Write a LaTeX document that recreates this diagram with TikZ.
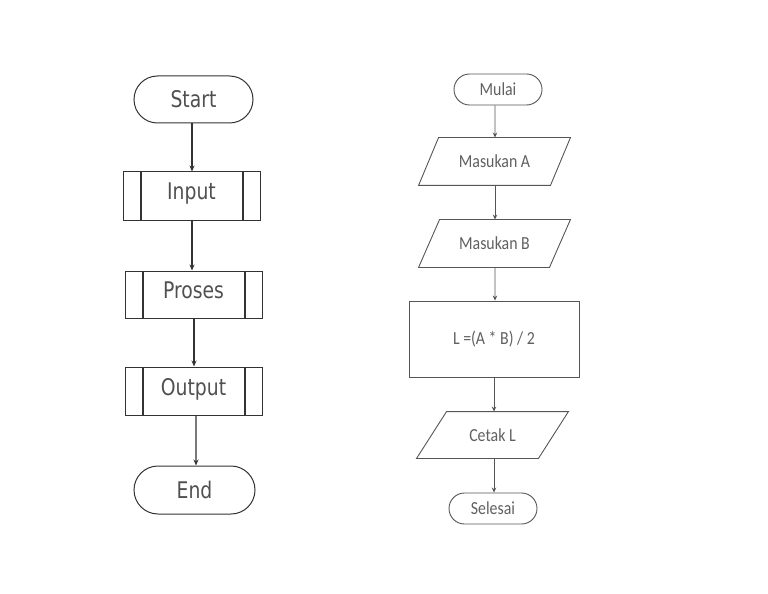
\documentclass[tikz,border=0pt]{standalone}
\usepackage{fontspec}
\usetikzlibrary{arrows.meta,shapes.misc}
\newfontfamily\leftfont[FakeStretch=0.82]{DejaVu Sans}
\newfontfamily\rightfont[FakeStretch=0.86]{Carlito}
\definecolor{ltext}{HTML}{505050}
\definecolor{lline}{HTML}{333333}
\definecolor{rtext}{HTML}{606060}
\definecolor{rline}{HTML}{555555}
\begin{document}
\begin{tikzpicture}[x=1bp,y=-1bp,
  lbase/.style={draw=lline,line width=1bp,text=ltext,inner sep=0pt,
    font=\leftfont\fontsize{23}{23}\selectfont},
  lterm/.style={lbase,rounded rectangle},
  predef/.style={lbase,rectangle,
    path picture={\draw[lline,line width=1.5bp]
      ([xshift=18bp]path picture bounding box.north west) -- ([xshift=18bp]path picture bounding box.south west)
      ([xshift=-17bp]path picture bounding box.north east) -- ([xshift=-17bp]path picture bounding box.south east);}},
  rbase/.style={draw=rline,line width=0.9bp,text=rtext,inner sep=0pt,
    font=\rightfont\fontsize{18.5}{18.5}\selectfont},
  rterm/.style={rbase,rounded rectangle},
  rbox/.style={rbase,rectangle},
  ptext/.style={rbase,draw=none,rectangle},
  parl/.style={draw=rline,line width=0.9bp,line join=miter},
  larr/.style={draw=lline,line width=1.1bp,-{Stealth[length=6bp,width=5bp]}},
  rarr/.style={draw=rline,line width=0.9bp,-{Stealth[length=5bp,width=4.5bp]}}]
\useasboundingbox (0,0) rectangle (768,594);
% left flowchart
\node[lterm,minimum width=119bp,minimum height=47bp] (start) at (193.5,99.5) {Start};
\node[predef,minimum width=137bp,minimum height=48bp] (input) at (191.5,196) {\raisebox{10bp}{Input}};
\node[predef,minimum width=137bp,minimum height=47bp] (proses) at (193.5,294.5) {\raisebox{9bp}{Proses}};
\node[predef,minimum width=137bp,minimum height=48bp] (output) at (193.5,391) {\raisebox{8bp}{Output}};
\node[lterm,minimum width=121bp,minimum height=48bp] (end) at (194.5,490) {End};
\draw[larr] ([xshift=-1.5bp]start.south) -- ([xshift=0.5bp]input.north);
\draw[larr] ([xshift=0.5bp]input.south) -- ([xshift=-1.5bp]proses.north);
\draw[larr] ([xshift=0.5bp]proses.south) -- ([xshift=0.5bp]output.north);
\draw[larr] ([xshift=2.5bp]output.south) -- ([xshift=1.5bp]end.north);
% right flowchart
\node[rterm,minimum width=88bp,minimum height=31bp] (mulai) at (498,89.5) {Mulai};
\node[ptext,minimum width=151bp,minimum height=47bp] (masA) at (494.5,161.5) {Masukan A};
\draw[parl] ([xshift=20bp]masA.north west) -- (masA.north east) -- ([xshift=-20bp]masA.south east) -- (masA.south west) -- cycle;
\node[ptext,minimum width=151bp,minimum height=47bp] (masB) at (494.5,243.5) {Masukan B};
\draw[parl] ([xshift=21bp]masB.north west) -- (masB.north east) -- ([xshift=-21bp]masB.south east) -- (masB.south west) -- cycle;
\node[rbox,minimum width=170bp,minimum height=76bp] (calc) at (494,339) {L =(A * B) / 2};
\node[ptext,minimum width=151bp,minimum height=46bp] (cetak) at (492.5,435) {Cetak L};
\draw[parl] ([xshift=30bp]cetak.north west) -- (cetak.north east) -- ([xshift=-30bp]cetak.south east) -- (cetak.south west) -- cycle;
\node[rterm,minimum width=88bp,minimum height=31bp] (selesai) at (493,508.5) {Selesai};
\draw[rarr] ([xshift=-3bp]mulai.south) -- ([xshift=0.5bp]masA.north);
\draw[rarr] ([xshift=0.5bp]masA.south) -- ([xshift=0.5bp]masB.north);
\draw[rarr] ([xshift=0.5bp]masB.south) -- ([xshift=1bp]calc.north);
\draw[rarr] (calc.south) -- ([xshift=1.5bp]cetak.north);
\draw[rarr] ([xshift=1.5bp]cetak.south) -- ([xshift=1bp]selesai.north);
\end{tikzpicture}
\end{document}
